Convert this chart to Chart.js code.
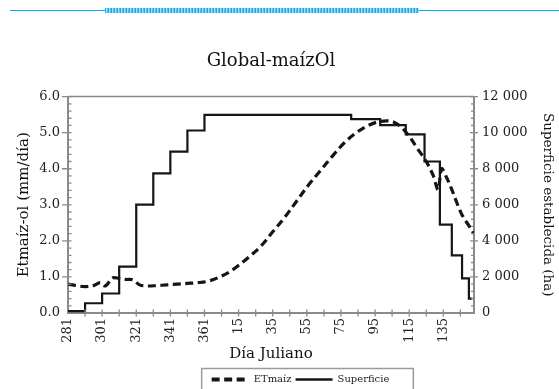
<!DOCTYPE html>
<html><head><meta charset="utf-8">
<script src="https://cdn.jsdelivr.net/npm/chart.js@4.4.0/dist/chart.umd.min.js"></script>
<style>
html,body{margin:0;padding:0;background:#fff;}
#wrap{position:relative;width:559px;height:389px;overflow:hidden;}
canvas{position:absolute;left:0;top:0;}
#rule{position:absolute;left:10px;right:0;top:10px;height:1px;background:#00b0f0;}
#hatch{position:absolute;left:105px;width:314px;top:8px;height:5px;background:repeating-linear-gradient(90deg,#1aa8e6 0 1px,#a8def7 1px 2px,#55c3f0 2px 3px);}
</style></head><body>
<div id="wrap"><canvas id="c" width="559" height="389"></canvas><div id="rule"></div><div id="hatch"></div></div>
<script>
// Days counted from Julian day 281 (leap-year wrap: 361 -> 15 is 20 days)
const xTickLabels = ['281','301','321','341','361','15','35','55','75','95','115','135'];
const etDays = [0,5,10,15,19,22,26,30,34,38,42,46,52,58,64,70,76,82,88,94,100,106,113,120,127,134,141,148,155,162,169,176,183,190,195,200,205,210,214,217,219,222,225,228,231,235,238];
const etValues = [0.80,0.76,0.73,0.76,0.84,0.75,0.97,0.96,0.93,0.92,0.78,0.75,0.76,0.78,0.80,0.82,0.84,0.88,0.98,1.12,1.32,1.55,1.85,2.25,2.65,3.10,3.55,3.95,4.35,4.72,5.00,5.20,5.31,5.31,5.17,4.90,4.55,4.20,3.82,3.42,4.00,3.75,3.42,3.05,2.72,2.42,2.20];
const areaDays = [0,10,20,30,40,50,60,70,80,166,183,198,209,218,225,231,235,237];
const areaValues = [100,540,1080,2570,6010,7740,8950,10120,10990,10750,10420,9900,8400,4900,3200,1920,800,800];

const FONT = 'DejaVu Serif';
const AXIS = '#8a8a8a';
const LEG_DX = 21, LEG_DY = 5.5;

const decor = {
  id: 'decor',
  afterLayout(chart) {
    const lg = chart.legend;
    if (!lg) return;
    lg.left += LEG_DX; lg.right += LEG_DX; lg.top += LEG_DY; lg.bottom += LEG_DY;
  },
  afterDraw(chart) {
    const ctx = chart.ctx, a = chart.chartArea;
    const xs = chart.scales.x, yl = chart.scales.y, yr = chart.scales.y2;
    ctx.save();
    ctx.strokeStyle = AXIS;
    ctx.lineWidth = 1.5;
    ctx.beginPath();
    ctx.moveTo(a.left, a.top); ctx.lineTo(a.right, a.top);
    ctx.stroke();
    ctx.lineWidth = 1.3;
    ctx.beginPath();
    for (let v = 10; v <= 230; v += 10) {
      const p = xs.getPixelForValue(v);
      ctx.moveTo(p, a.bottom - 3.5); ctx.lineTo(p, a.bottom + 3.5);
    }
    for (let i = 1; i <= 30; i++) {
      const v = i * 0.2, p = yl.getPixelForValue(v);
      const major = i % 5 === 0;
      ctx.moveTo(major ? a.left - 6 : a.left, p); ctx.lineTo(a.left + 3.5, p);
    }
    for (let i = 1; i <= 30; i++) {
      const v = i * 400, p = yr.getPixelForValue(v);
      const major = i % 5 === 0;
      ctx.moveTo(a.right - (major ? 4 : 3), p); ctx.lineTo(major ? a.right + 4 : a.right, p);
    }
    ctx.stroke();
    const lg = chart.legend;
    if (lg && lg.legendHitBoxes && lg.legendHitBoxes.length) {
      const hb = lg.legendHitBoxes, last = hb[hb.length - 1];
      const l = hb[0].left - 10, r = last.left + last.width + 24;
      const t = hb[0].top - 6;
      ctx.strokeStyle = '#9a9a9a';
      ctx.lineWidth = 1.5;
      ctx.strokeRect(l, t, r - l, 40);
    }
    ctx.restore();
  }
};

Chart.defaults.font.family = FONT;
new Chart(document.getElementById('c'), {
  type: 'line',
  data: {
    datasets: [
      { label: 'ETmaíz', data: etDays.map((d, i) => ({ x: d, y: etValues[i] })), yAxisID: 'y',
        borderColor: '#151515', borderWidth: 3.2, borderDash: [8, 4.5], pointRadius: 0, tension: 0.35, fill: false },
      { label: 'Superficie', data: areaDays.map((d, i) => ({ x: d, y: areaValues[i] })), yAxisID: 'y2',
        borderColor: '#151515', borderWidth: 2.2, stepped: true, pointRadius: 0, fill: false }
    ]
  },
  options: {
    responsive: false, animation: false, devicePixelRatio: 1,
    layout: { padding: 0 },
    plugins: {
      title: { display: true, text: 'Global-maízOl', fullSize: false, color: '#111',
        font: { family: FONT, size: 18, weight: 'normal' }, padding: { top: 51, bottom: 24 } },
      legend: { position: 'bottom', labels: { usePointStyle: true, pointStyle: 'line', pointStyleWidth: 37,
        font: { family: FONT, size: 10 }, color: '#222', padding: 4,
        generateLabels: chart => {
          const items = Chart.defaults.plugins.legend.labels.generateLabels(chart);
          items.forEach(it => {
            const ds = chart.data.datasets[it.datasetIndex];
            it.lineDash = ds.borderDash || [];
            it.lineWidth = ds.borderDash ? 4 : 2.4;
            it.strokeStyle = ds.borderColor;
          });
          return items;
        } } },
      tooltip: { enabled: false }
    },
    scales: {
      x: { type: 'linear', position: 'bottom', min: 0, max: 238,
        afterFit: s => { s.height = 52; },
        grid: { display: false, drawTicks: false },
        border: { display: true, color: AXIS, width: 2 },
        ticks: { stepSize: 10, autoSkip: false, minRotation: 90, maxRotation: 90, padding: 5,
          font: { family: FONT, size: 13 }, color: '#222',
          callback: v => { const r = Math.round(v); return r % 20 === 0 ? (xTickLabels[r / 20] || '') : ''; } },
        title: { display: true, text: 'Día Juliano', color: '#111', font: { family: FONT, size: 15 }, padding: { top: 0, bottom: 2 } } },
      y: { position: 'left', min: 0, max: 6,
        afterFit: s => { s.width = 68; },
        grid: { display: false, drawTicks: false },
        border: { display: true, color: AXIS, width: 2 },
        ticks: { stepSize: 1, padding: 8, font: { family: FONT, size: 13 }, color: '#222', callback: v => v.toFixed(1) },
        title: { display: true, text: 'Etmaíz-ol (mm/día)', color: '#111', font: { family: FONT, size: 15 }, padding: { top: 15, bottom: 0 } } },
      y2: { position: 'right', min: 0, max: 12000,
        afterFit: s => { s.width = 85; },
        grid: { display: false, drawTicks: false },
        border: { display: true, color: AXIS, width: 2 },
        ticks: { stepSize: 2000, padding: 8, font: { family: FONT, size: 13 }, color: '#222',
          callback: v => v === 0 ? '0' : (v / 1000) + ' 000' },
        title: { display: true, text: 'Superficie establecida (ha)', color: '#111', font: { family: FONT, size: 13.5 }, padding: { top: 3, bottom: 0 } } }
    }
  },
  plugins: [decor]
});
</script>
</body></html>
